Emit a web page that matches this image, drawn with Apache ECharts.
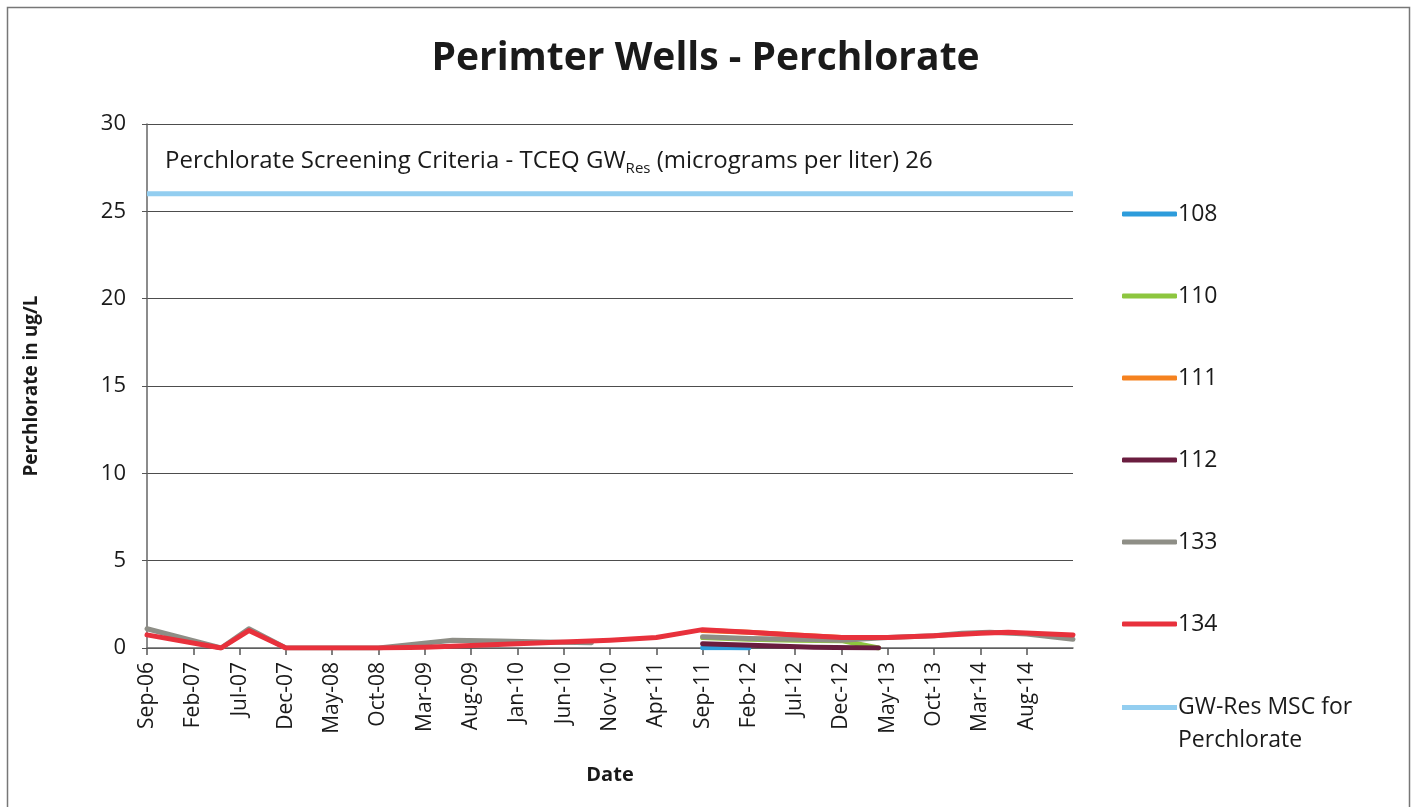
<!DOCTYPE html>
<html>
<head>
<meta charset="utf-8">
<script src="https://cdn.jsdelivr.net/npm/echarts@6/dist/echarts.min.js"></script>
<style>
html,body{margin:0;padding:0;background:#fff;}
#chart{width:1411px;height:807px;}
</style>
</head>
<body>
<div id="chart"></div>
<script>
// ---- data (dates as YYYY-MM, values in ug/L) ----
const START = '2006-09';
const MONTH_NAMES = ['Jan','Feb','Mar','Apr','May','Jun','Jul','Aug','Sep','Oct','Nov','Dec'];
const Y_TICKS = [0, 5, 10, 15, 20, 25, 30];

const dates108 = ['2011-09', '2011-12', '2012-02'];
const vals108  = [0.02, 0.01, 0.0];

const dates110 = ['2011-09', '2012-02', '2012-07', '2012-12', '2013-04'];
const vals110  = [0.6, 0.5, 0.45, 0.42, 0.0];

const dates111 = ['2011-09', '2012-02', '2012-07', '2012-12', '2013-05'];
const vals111  = [1.0, 0.9, 0.75, 0.6, 0.6];

const dates112 = ['2011-09', '2012-03', '2012-09', '2013-04'];
const vals112  = [0.25, 0.15, 0.05, 0.0];

const dates133 = ['2006-09','2007-05','2007-08','2007-12','2008-06','2008-10','2009-06','2009-11','2010-04','2010-09','2011-03','2011-09','2012-02','2012-07','2012-12','2013-05','2013-10','2014-01','2014-04','2014-08','2015-01'];
const vals133  = [1.1, 0.0, 1.1, 0.0, 0.0, 0.0, 0.45, 0.4, 0.35, 0.3, null, 0.65, 0.55, 0.5, 0.45, 0.6, 0.7, 0.85, 0.9, 0.8, 0.5];

const dates134 = ['2006-09','2007-05','2007-08','2007-12','2008-06','2008-10','2009-03','2009-08','2010-01','2010-06','2010-11','2011-04','2011-09','2012-02','2012-07','2012-12','2013-05','2013-10','2014-03','2014-06','2015-01'];
const vals134  = [0.75, 0.0, 1.0, 0.0, 0.0, 0.0, 0.05, 0.15, 0.25, 0.35, 0.45, 0.6, 1.05, 0.9, 0.75, 0.6, 0.6, 0.7, 0.85, 0.9, 0.75];

const datesGW = ['2006-09', '2015-01'];
const valsGW  = [26, 26];

const SERIES_NAMES = ['108', '110', '111', '112', '133', '134'];
const GW_NAME = 'GW-Res MSC for Perchlorate';
const COLORS = ['#2D9CDB', '#8DC63F', '#F5821F', '#6A1D3F', '#8E8E86', '#E8313C'];
const GW_COLOR = '#93CEF0';

// ---- helpers ----
function monthIndex(d) {
  const [y, m] = d.split('-').map(Number);
  const [y0, m0] = START.split('-').map(Number);
  return (y - y0) * 12 + (m - m0);
}
function pairs(dates, vals) {
  return dates.map((d, i) => [monthIndex(d), vals[i] === null ? '-' : vals[i]]);
}
function labelFor(idx) {
  const [y0, m0] = START.split('-').map(Number);
  const total = (m0 - 1) + idx;
  const y = y0 + Math.floor(total / 12);
  const m = total % 12;
  return MONTH_NAMES[m] + '-' + String(y % 100).padStart(2, '0');
}

const FONT = 'Open Sans';
const allDates = [dates108, dates110, dates111, dates112, dates133, dates134];
const allVals = [vals108, vals110, vals111, vals112, vals133, vals134];

const series = SERIES_NAMES.map((n, i) => ({
  name: n,
  type: 'line',
  data: pairs(allDates[i], allVals[i]),
  symbol: 'none',
  connectNulls: false,
  lineStyle: { width: 5, color: COLORS[i], cap: 'round', join: 'round' },
  itemStyle: { color: COLORS[i] },
  z: 2 + i
}));
series.unshift({
  name: GW_NAME,
  type: 'line',
  data: pairs(datesGW, valsGW),
  symbol: 'none',
  lineStyle: { width: 5, color: GW_COLOR },
  itemStyle: { color: GW_COLOR },
  z: 1
});

const chart = echarts.init(document.getElementById('chart'), null, { renderer: 'canvas' });
chart.setOption({
  backgroundColor: '#fff',
  animation: false,
  textStyle: { fontFamily: FONT },
  title: {
    text: 'Perimter Wells - Perchlorate',
    left: 'center',
    top: 34,
    textStyle: { fontFamily: FONT, fontSize: 39, fontWeight: 'bold', color: '#1a1a1a' }
  },
  grid: { left: 147, right: 338, top: 124, bottom: 159, containLabel: false },
  xAxis: {
    type: 'value',
    min: 0,
    max: 100,
    interval: 5,
    name: 'Date',
    nameLocation: 'middle',
    nameGap: 117,
    nameTextStyle: { fontFamily: FONT, fontSize: 20, fontWeight: 'bold', color: '#1a1a1a' },
    axisLine: { show: true, lineStyle: { color: '#666', width: 1.5 } },
    axisTick: { show: true, length: 7, lineStyle: { color: '#555', width: 1.5 } },
    splitLine: { show: false },
    axisLabel: {
      rotate: 90,
      margin: 14,
      fontSize: 21,
      color: '#1a1a1a',
      fontFamily: FONT,
      showMaxLabel: false,
      formatter: v => labelFor(v)
    }
  },
  yAxis: {
    type: 'value',
    min: Y_TICKS[0],
    max: Y_TICKS[Y_TICKS.length - 1],
    interval: Y_TICKS[1] - Y_TICKS[0],
    name: 'Perchlorate in ug/L',
    nameLocation: 'middle',
    nameGap: 106,
    nameRotate: 90,
    nameTextStyle: { fontFamily: FONT, fontSize: 19, fontWeight: 'bold', color: '#1a1a1a' },
    axisLine: { show: true, lineStyle: { color: '#666', width: 1.5 } },
    axisTick: { show: true, length: 5, lineStyle: { color: '#555' } },
    splitLine: { show: true, lineStyle: { color: '#4d4d4d', width: 1.2 } },
    axisLabel: { fontSize: 22, color: '#1a1a1a', margin: 21, fontFamily: FONT }
  },
  legend: [
    {
      orient: 'vertical',
      left: 1117,
      top: 196,
      itemWidth: 55,
      itemHeight: 5,
      itemGap: 56,
      icon: 'roundRect',
      data: SERIES_NAMES,
      textStyle: { fontFamily: FONT, fontSize: 23, color: '#1a1a1a', lineHeight: 26, padding: [0, 0, 0, -4] }
    },
    {
      orient: 'vertical',
      left: 1117,
      top: 653,
      itemWidth: 55,
      itemHeight: 5,
      icon: 'rect',
      data: [GW_NAME],
      formatter: () => '\nGW-Res MSC for\nPerchlorate',
      textStyle: { fontFamily: FONT, fontSize: 23, color: '#1a1a1a', lineHeight: 33, padding: [0, 0, 0, -4] }
    }
  ],
  graphic: [
    {
      type: 'rect',
      left: 5, top: 5,
      shape: { x: 0, y: 0, width: 1402, height: 830 },
      style: { fill: 'none', stroke: '#777', lineWidth: 1.5 },
      silent: true
    },
    {
      type: 'text',
      left: 165,
      top: 146,
      style: {
        text: '{a|Perchlorate Screening Criteria - TCEQ GW}{s|Res}{a| (micrograms per liter) 26}',
        rich: {
          a: { fontFamily: FONT, fontSize: 24, fill: '#1a1a1a', color: '#1a1a1a', lineHeight: 30 },
          s: { fontFamily: FONT, fontSize: 15, fill: '#1a1a1a', color: '#1a1a1a', padding: [15, 0, 0, 0], lineHeight: 30 }
        }
      },
      silent: true
    }
  ],
  series: series
});
</script>
</body>
</html>
